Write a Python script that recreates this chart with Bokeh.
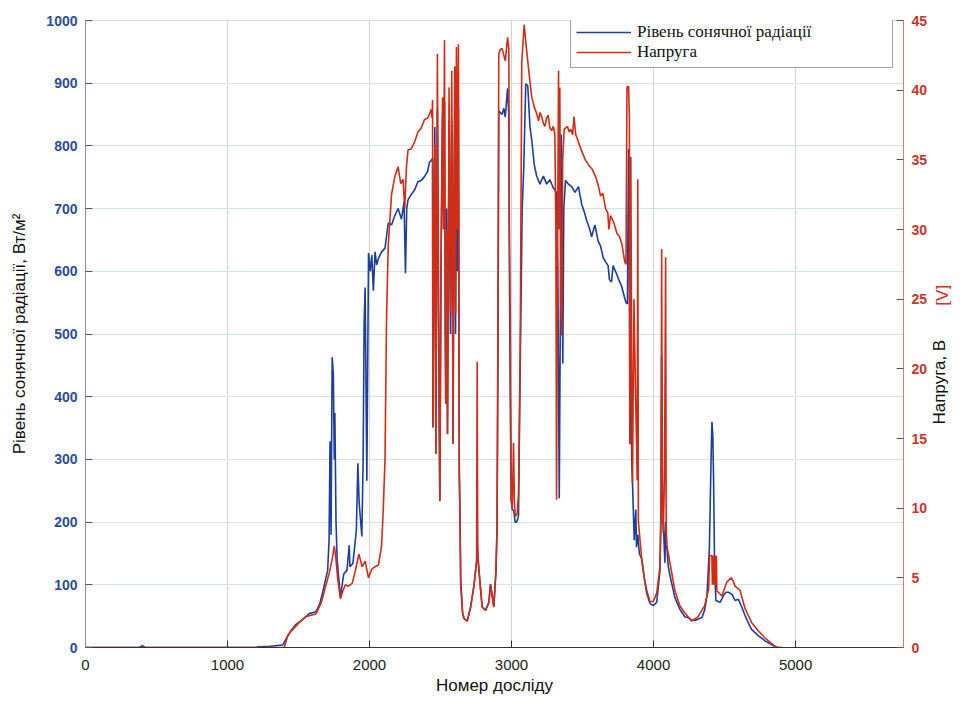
from bokeh.plotting import figure
from bokeh.models import Range1d, LinearAxis, FixedTicker, Legend, LegendItem
from bokeh.embed import file_html
from bokeh.resources import INLINE
import math

# ---- data ----
x_rad = [0, 380, 400, 420, 1200, 1216, 1300, 1390, 1413, 1450, 1483, 1530, 1576, 1622, 1650, 1671, 1705, 1715,
         1722, 1729, 1737, 1745, 1752, 1756, 1764, 1772, 1795, 1818, 1841, 1857, 1862, 1883, 1907, 1918, 1927,
         1946, 1955, 1962, 1969, 1981, 1993, 2005, 2016, 2027, 2039, 2050, 2062, 2085, 2109, 2132, 2155, 2178,
         2201, 2225, 2243, 2253, 2262, 2271, 2295, 2318, 2341, 2365, 2387, 2410, 2422, 2435, 2444,
         2446, 2455, 2460, 2467, 2472, 2478, 2487, 2495, 2503, 2514, 2520, 2528, 2533, 2537, 2543, 2549, 2555,
         2560, 2570, 2579, 2584, 2588, 2594, 2600, 2606, 2612, 2619, 2626, 2632, 2638, 2642,
         2655, 2665, 2688, 2712, 2735, 2754, 2758, 2770, 2793, 2817, 2840, 2852, 2875, 2890, 2898, 2905, 2910,
         2933, 2946, 2956, 2972, 2981, 2985, 2991, 2998, 3005, 3016, 3026, 3040, 3049, 3061, 3075, 3086, 3100,
         3114, 3130, 3142, 3160, 3177, 3200, 3224, 3247, 3270, 3294, 3317, 3326, 3336, 3343, 3350, 3356, 3361,
         3368, 3380, 3401, 3424, 3447, 3471, 3494, 3512, 3529, 3547, 3564, 3587, 3610, 3627, 3645, 3662, 3680,
         3689, 3704, 3715, 3739, 3758, 3774, 3797, 3806, 3816, 3824, 3829, 3833, 3840, 3846, 3852, 3864, 3875,
         3880, 3889, 3900, 3917, 3935, 3952, 3975, 3998, 4022, 4045, 4052, 4057, 4062, 4068, 4080, 4085, 4092,
         4103, 4120, 4150, 4185, 4220, 4250, 4267, 4290, 4313, 4341, 4360, 4376, 4393, 4405, 4411, 4417, 4423,
         4430, 4439, 4469, 4493, 4510, 4527, 4551, 4574, 4597, 4620, 4644, 4670, 4690, 4737, 4783, 4841, 4864, 4900]
radiation = [0, 0, 3, 0, 0, 1, 2, 4, 14, 28, 37, 45, 54, 57, 70, 89, 123, 170,
             329, 180, 463, 437, 300, 374, 200, 140, 80, 117, 123, 163, 129, 134, 186, 294, 231,
             177, 300, 517, 574, 266, 629, 600, 626, 569, 631, 610, 620, 631, 637, 677, 674, 689,
             700, 683, 711, 597, 700, 714, 723, 730, 743, 745, 751, 760, 774, 777, 780,
             351, 700, 830, 309, 600, 860, 500, 234, 600, 850, 700, 870, 500, 389, 700, 341, 600,
             840, 500, 840, 600, 325, 700, 850, 500, 870, 600, 860, 282, 200, 110,
             55, 46, 42, 65, 98, 137, 170, 124, 65, 59, 72, 101, 65, 120, 190, 500, 856,
             850, 860, 846, 892, 847, 600, 400, 235, 220, 218, 199, 202, 210, 450, 700, 765, 899,
             896, 830, 810, 770, 752, 739, 752, 739, 746, 733, 726, 600, 238, 500, 818, 700, 453,
             700, 745, 739, 735, 726, 735, 707, 695, 681, 670, 655, 674, 648, 640, 622, 615, 609,
             587, 583, 609, 596, 585, 577, 557, 550, 548, 795, 700, 324, 600, 300, 260, 171, 220,
             160, 180, 150, 141, 110, 86, 70, 67, 72, 122, 200, 465, 300, 202, 135, 200, 165,
             130, 110, 80, 61, 49, 47, 44, 43, 45, 48, 60, 83, 157, 300, 360, 340, 264,
             125, 75, 72, 83, 88, 88, 85, 75, 77, 65, 51, 38, 29, 19, 11, 3, 0, 0]

x_volt = [0, 1400, 1425, 1460, 1506, 1550, 1622, 1660, 1694, 1720, 1740, 1752, 1762, 1775, 1795, 1810, 1830,
          1850, 1878, 1900, 1925, 1948, 1969, 1993, 2015, 2039, 2062, 2085, 2097, 2109, 2120, 2132, 2155,
          2178, 2201, 2220, 2236, 2248, 2260, 2271, 2295, 2318, 2341, 2365, 2387, 2410, 2434, 2440,
          2444, 2446, 2455, 2460, 2467, 2472, 2478, 2487, 2495, 2503, 2514, 2520, 2528, 2533, 2537, 2543,
          2549, 2555, 2560, 2570, 2579, 2584, 2588, 2594, 2600, 2606, 2612, 2619, 2626, 2632, 2638, 2642,
          2655, 2665, 2688, 2712, 2735, 2754, 2758, 2762, 2770, 2793, 2817, 2840, 2852, 2875, 2890, 2898,
          2905, 2910, 2920, 2933, 2946, 2956, 2965, 2972, 2981, 2985, 2991, 2995, 2998, 3005, 3014, 3020,
          3026, 3040, 3049, 3061, 3072, 3089, 3100, 3115, 3130, 3142, 3160, 3177, 3190, 3200, 3212, 3225,
          3235, 3247, 3258, 3270, 3282, 3294, 3305, 3312, 3317, 3322, 3331, 3335, 3340, 3346, 3354, 3360,
          3371, 3394, 3406, 3417, 3430, 3440, 3452, 3464, 3480, 3499, 3520, 3545, 3569, 3592, 3610, 3627,
          3643, 3662, 3678, 3685, 3697, 3720, 3743, 3760, 3778, 3797, 3806, 3813, 3824, 3830, 3833, 3840,
          3846, 3852, 3862, 3875, 3885, 3889, 3893, 3917, 3935, 3952, 3975, 3998, 4022, 4045, 4052, 4057,
          4061, 4068, 4077, 4085, 4089, 4092, 4115, 4150, 4185, 4220, 4267, 4313, 4360, 4388, 4395, 4411,
          4414, 4418, 4422, 4426, 4430, 4434, 4438, 4442, 4446, 4453, 4481, 4516, 4546, 4560, 4574, 4609,
          4644, 4690, 4737, 4783, 4853, 4876, 4900]
voltage = [0, 0, 0.9, 1.3, 1.8, 2.2, 2.4, 3.2, 4.5, 5.5, 6.5, 7.3, 6.5, 5.0, 3.5, 4.0, 4.5,
           4.4, 4.6, 5.5, 6.7, 5.8, 6.2, 5.0, 5.6, 5.8, 5.9, 7.3, 10, 13.5, 23.8, 28.9, 32.5,
           33.8, 34.5, 33.3, 33.6, 31.5, 34.5, 35.7, 35.8, 36.3, 37.0, 37.3, 37.9, 38.0, 38.6, 38.0,
           39.3, 15.8, 30, 36, 13.9, 28, 42.6, 22, 10.5, 27, 39.5, 30, 43.6, 25, 17.5, 30,
           15.3, 28, 40.2, 24, 41.4, 28, 14.6, 30, 41.7, 24, 43.1, 30, 43.3, 12.7, 8, 4.5,
           2.5, 2.1, 1.9, 2.9, 4.4, 6.2, 20.5, 6.5, 5.6, 2.9, 2.7, 3.2, 4.5, 2.9, 5.5, 8.6,
           25, 42.6, 42.9, 43.0, 42.5, 42.1, 43.0, 43.8, 43.0, 30, 23.5, 14, 10.6, 10.0, 14.7, 10.5,
           9.4, 9.6, 11, 21.5, 42.0, 44.7, 43.5, 42.0, 40.6, 39.5, 38.8, 38.3, 37.8, 38.4, 38.1, 37.6,
           37.4, 38.0, 38.2, 37.3, 37.1, 37.4, 36.8, 30, 10.6, 25, 41.4, 30, 40.2, 25, 22.4, 35,
           37.2, 37.4, 37.0, 37.2, 36.8, 38.1, 36.8, 36.5, 36.0, 35.5, 35.0, 34.6, 34.3, 33.8, 33.2, 32.4,
           32.6, 31.5, 31.2, 30.0, 31.0, 30.5, 29.7, 29.5, 28.9, 27.7, 27.5, 40.2, 40.3, 38, 14.6, 35.2,
           20, 11.8, 25, 17.3, 12, 33.6, 9.1, 6.3, 5.0, 4.1, 3.3, 3.3, 3.9, 5.8, 10, 28.6,
           12, 8.2, 12, 28.0, 9, 7.4, 6.1, 4.1, 3.0, 2.5, 1.9, 2.2, 3.0, 4.2, 6.6, 6.6,
           4.5, 6.6, 4.5, 6.6, 4.5, 6.6, 4.5, 6.6, 4.0, 4.0, 3.7, 4.7, 5.0, 4.8, 4.4, 4.1,
           2.8, 1.8, 1.2, 0.7, 0.1, 0, 0]

x_ticks = [0, 1000, 2000, 3000, 4000, 5000]
rad_ticks = [0, 100, 200, 300, 400, 500, 600, 700, 800, 900, 1000]
volt_ticks = [0, 5, 10, 15, 20, 25, 30, 35, 40, 45]
volt_title = "Напруга, В"
volt_unit = "[V]"

BLUE = "#1c3f9e"
RED = "#d22c14"
NB = "\u00a0"

p = figure(width=964, height=701, output_backend="svg", toolbar_location=None,
           x_range=Range1d(0, 5760), y_range=Range1d(0, 1000),
           min_border_left=85, min_border_right=54, min_border_top=20, min_border_bottom=54)
p.extra_y_ranges = {"v": Range1d(0, 45)}
p.background_fill_color = "white"
p.outline_line_color = "#dddddd"

# grids
p.xgrid.ticker = FixedTicker(ticks=x_ticks)
p.ygrid.ticker = FixedTicker(ticks=rad_ticks)
p.xgrid.grid_line_color = "#cfd3d8"
p.ygrid.grid_line_color = "#d3e2ef"

# bottom axis
xa = p.xaxis[0]
xa.ticker = FixedTicker(ticks=x_ticks)
xa.axis_label = "Номер досліду"
xa.axis_label_text_font = "Liberation Sans"
xa.axis_label_text_font_size = "17px"
xa.axis_label_text_font_style = "normal"
xa.axis_label_text_color = "#111111"
xa.axis_label_standoff = 3
xa.major_label_text_font = "Liberation Sans"
xa.major_label_text_font_size = "15px"
xa.major_label_text_color = "#222222"
xa.major_tick_in = 7
xa.major_tick_out = 0
xa.minor_tick_line_color = None
xa.axis_line_color = "#333333"
xa.major_tick_line_color = "#333333"
xa.major_label_standoff = 12

# left axis
ya = p.yaxis[0]
ya.ticker = FixedTicker(ticks=rad_ticks)
ya.axis_label = "Рівень сонячної радіації, Вт/м²"
ya.axis_label_text_font = "Liberation Sans"
ya.axis_label_text_font_size = "17px"
ya.axis_label_text_font_style = "normal"
ya.axis_label_text_color = "#111111"
ya.axis_label_standoff = 14
ya.major_label_text_font = "Liberation Sans"
ya.major_label_text_font_size = "14px"
ya.major_label_text_font_style = "bold"
ya.major_label_text_color = "#2a4c9c"
ya.major_tick_in = 7
ya.major_tick_out = 0
ya.minor_tick_line_color = None
ya.axis_line_color = "#8f86d0"
ya.major_tick_line_color = "#555555"
ya.major_label_standoff = 8

# right axis (ticks + numbers)
ra = LinearAxis(y_range_name="v", ticker=FixedTicker(ticks=volt_ticks))
ra.major_label_text_font = "Liberation Sans"
ra.major_label_text_font_size = "14px"
ra.major_label_text_font_style = "bold"
ra.major_label_text_color = "#c8342c"
ra.major_tick_in = 7
ra.major_tick_out = 0
ra.minor_tick_line_color = None
ra.axis_line_color = "#e27a7a"
ra.major_tick_line_color = "#555555"
ra.major_label_standoff = 8
p.add_layout(ra, "right")

# second right axis: black title as a single rotated label, red unit as axis title
ru = LinearAxis(y_range_name="v", ticker=FixedTicker(ticks=[16]),
                major_label_overrides={16: volt_title})
ru.axis_line_color = None
ru.major_tick_line_color = None
ru.minor_tick_line_color = None
ru.major_tick_out = 0
ru.major_tick_in = 0
ru.major_label_standoff = 9
ru.major_label_orientation = math.pi / 2
ru.major_label_text_font = "Liberation Sans"
ru.major_label_text_font_size = "17px"
ru.major_label_text_font_style = "normal"
ru.major_label_text_color = "#111111"
ru.axis_label = NB * 6 + volt_unit
ru.axis_label_text_font = "Liberation Sans"
ru.axis_label_text_font_size = "17px"
ru.axis_label_text_font_style = "normal"
ru.axis_label_text_color = "#c8342c"
ru.axis_label_orientation = math.pi / 2
ru.axis_label_standoff = -19
p.add_layout(ru, "right")

# lines
r1 = p.line(x_rad, radiation, line_color=BLUE, line_width=1.6)
r2 = p.line(x_volt, voltage, line_color=RED, line_width=1.6, y_range_name="v")

legend = Legend(items=[LegendItem(label="Рівень сонячної радіації", renderers=[r1]),
                       LegendItem(label="Напруга", renderers=[r2])],
                location=(485, 579))
legend.label_text_font = "Liberation Serif"
legend.label_text_font_size = "17px"
legend.label_text_color = "#111111"
legend.glyph_width = 55
legend.glyph_height = 18
legend.label_height = 18
legend.label_standoff = 6
legend.label_width = 250
legend.spacing = 0
legend.padding = 5
legend.margin = 0
legend.border_line_color = "#444444"
legend.border_line_width = 1
legend.background_fill_color = "white"
legend.background_fill_alpha = 1.0
p.add_layout(legend, "center")

open("out.html", "w").write(file_html(p, INLINE))
